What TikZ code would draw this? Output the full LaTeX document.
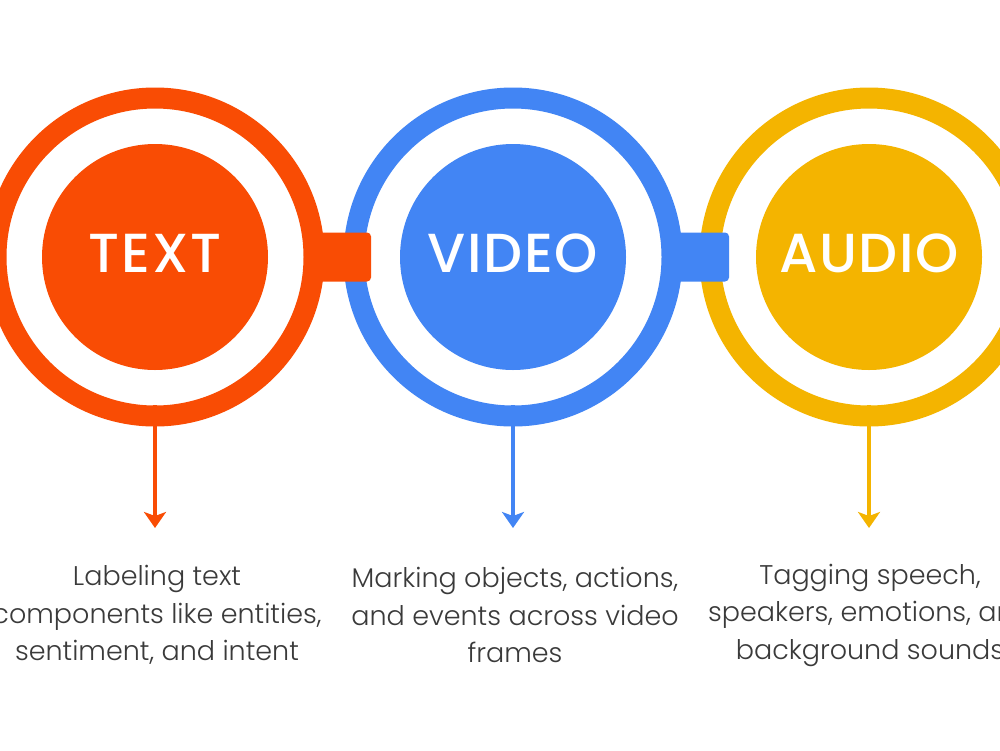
\documentclass[tikz,border=0pt]{standalone}
\usepackage{fontspec}
\setmainfont{Poppins}
\newfontfamily\descfont{Poppins Light}
\newfontfamily\titlefont[LetterSpace=3]{Poppins Medium}
\usetikzlibrary{arrows.meta}
\definecolor{corange}{HTML}{F94C04}
\definecolor{cblue}{HTML}{4285F4}
\definecolor{cyellow}{HTML}{F4B400}
\definecolor{ctext}{HTML}{3A3A3A}
\tikzset{
  ring/.style={circle, draw=#1, line width=21pt, minimum size=318pt, inner sep=0pt, outer sep=0pt},
  core/.style={circle, fill=#1, minimum size=226pt, inner sep=0pt},
  title/.style={text=white, font=\titlefont\fontsize{55}{60}\selectfont},
  tab/.style={fill=#1, rounded corners=4pt},
  stem/.style={draw=#1, line width=4.5pt, -{Stealth[length=16pt,width=22pt,inset=4pt]}},
  desc/.style={align=center, text=ctext, font=\descfont\fontsize{27}{37.5}\selectfont}
}
\begin{document}
\begin{tikzpicture}[x=1pt,y=-1pt]
\useasboundingbox (0,0) rectangle (1000,750);
\clip (0,0) rectangle (1000,750);
\fill[white] (0,0) rectangle (1000,750);
% rings
\node[ring=corange] (ringA) at (155,257) {};
\node[ring=cblue] (ringB) at (513,257) {};
\node[ring=cyellow] (ringC) at (869,257) {};
% tabs
\fill[tab=corange] ([xshift=-2pt,yshift=24.5pt]ringA.east) -| ([xshift=57pt,yshift=-24.5pt]ringA.east) -| cycle;
\fill[tab=cblue] ([xshift=-2pt,yshift=24.5pt]ringB.east) -| ([xshift=57pt,yshift=-24.5pt]ringB.east) -| cycle;
% cores
\node[core=corange] (coreA) at (ringA) {};
\node[core=cblue] (coreB) at (ringB) {};
\node[core=cyellow] (coreC) at (ringC) {};
\node[title] (textc) at ([yshift=4pt]coreA.center) {TEXT};
\node[title] (videoc) at ([yshift=4pt]coreB.center) {VIDEO};
\node[title] (audioc) at ([yshift=4pt]coreC.center) {AUDIO};
% arrow tips
\coordinate (tipA) at (155,528);
\coordinate (tipB) at (513,528);
\coordinate (tipC) at (869,528);
\draw[stem=corange] ([yshift=11pt]ringA.south) -- (tipA);
\draw[stem=cblue] ([yshift=11pt]ringB.south) -- (tipB);
\draw[stem=cyellow] ([yshift=11pt]ringC.south) -- (tipC);
% descriptions
\node[desc] (descA) at (157,615) {Labeling text\\components like entities,\\sentiment, and intent};
\node[desc] (descB) at (515,615) {Marking objects, actions,\\and events across video\\frames};
\node[desc] (descC) at (870,615) {Tagging speech,\\speakers, emotions, and\\background sounds};
\end{tikzpicture}
\end{document}
